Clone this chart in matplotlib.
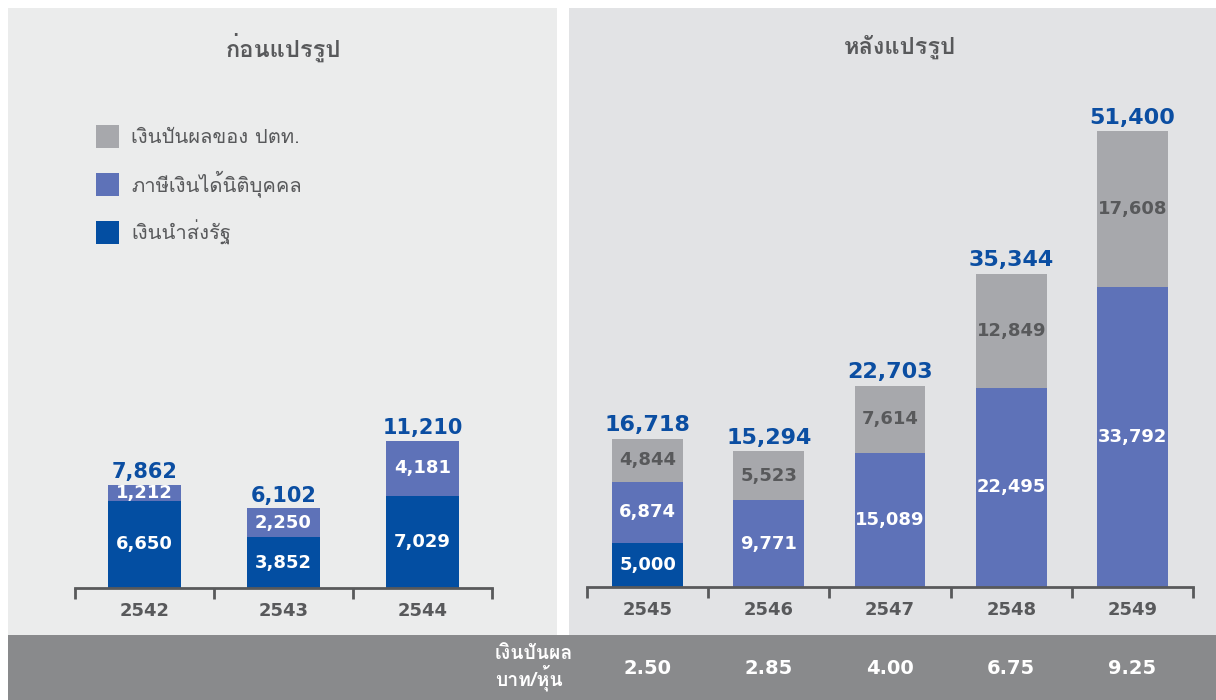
import matplotlib
matplotlib.use("Agg")
import matplotlib.pyplot as plt
from matplotlib import font_manager as fm
from matplotlib.ft2font import FT2Font
from matplotlib.patches import Rectangle, Patch

# ---------------- data ----------------
years_before = ["2542", "2543", "2544"]
remit_before = [6650, 3852, 7029]          # เงินนำส่งรัฐ
tax_before = [1212, 2250, 4181]            # ภาษีเงินได้นิติบุคคล
total_before = [7862, 6102, 11210]

years_after = ["2545", "2546", "2547", "2548", "2549"]
remit_after = [5000, 0, 0, 0, 0]
tax_after = [6874, 9771, 15089, 22495, 33792]
div_after = [4844, 5523, 7614, 12849, 17608]   # เงินปันผลของ ปตท.
total_after = [16718, 15294, 22703, 35344, 51400]

dps = ["2.50", "2.85", "4.00", "6.75", "9.25"]

legend_labels = ["เงินปันผลของ ปตท.", "ภาษีเงินได้นิติบุคคล", "เงินนำส่งรัฐ"]
title_before = "ก่อนแปรรูป"
title_after = "หลังแปรรูป"
band_label = "เงินปันผล\nบาท/หุ้น"

# ---------------- fonts ----------------
def thai_fonts():
    out = []
    seen = set()
    for f in fm.fontManager.ttflist:
        if f.name in seen:
            continue
        try:
            ft = FT2Font(f.fname)
            if ft.get_char_index(ord("ก")) and ft.get_char_index(ord("ู")):
                out.append(f.name)
                seen.add(f.name)
        except Exception:
            pass
    return out

tf = thai_fonts()
THAI = tf[:1] + ["DejaVu Sans"]
NUM = ["DejaVu Sans"]
avail = {f.name for f in fm.fontManager.ttflist}
NARROW = ["Liberation Sans Narrow"] if "Liberation Sans Narrow" in avail else ["DejaVu Sans"]
plt.rcParams["font.family"] = THAI

C_DARK = "#034EA2"
C_MID = "#5E72B8"
C_GRAY = "#A7A8AC"
C_TXT = "#58595B"
C_TOT = "#0B4EA2"

W, H = 1216, 700
fig = plt.figure(figsize=(W / 100, H / 100), dpi=100)
fig.patch.set_facecolor("white")

def fx(px):
    return px / W

def fy(py):
    return 1 - py / H

# panel backgrounds
fig.patches.append(Rectangle((fx(8), fy(635)), fx(557) - fx(8), fy(8) - fy(635),
                             transform=fig.transFigure, facecolor="#EBECEC", edgecolor="none", zorder=-5))
fig.patches.append(Rectangle((fx(569), fy(635)), fx(1216) - fx(569), fy(8) - fy(635),
                             transform=fig.transFigure, facecolor="#E2E3E5", edgecolor="none", zorder=-5))
fig.patches.append(Rectangle((fx(8), 0), 1 - fx(8), fy(635),
                             transform=fig.transFigure, facecolor="#898A8C", edgecolor="none", zorder=-5))

def setup(ax, n, ymax, labels):
    ax.set_facecolor("none")
    ax.set_xlim(-0.5, n - 0.5)
    ax.set_ylim(0, ymax)
    for s in ["top", "right", "left"]:
        ax.spines[s].set_visible(False)
    ax.spines["bottom"].set_color(C_TXT)
    ax.spines["bottom"].set_linewidth(2)
    ax.set_yticks([])
    ax.set_xticks(range(n))
    ax.set_xticklabels(labels, fontsize=13, fontweight="bold", color=C_TXT, family=NUM)
    ax.tick_params(axis="x", which="major", length=0, pad=10)
    ax.set_xticks([i - 0.5 for i in range(n + 1)], minor=True)
    ax.tick_params(axis="x", which="minor", length=8, width=2, color=C_TXT, direction="out")

# left axes
axL = fig.add_axes([fx(75), fy(588), fx(492) - fx(75), fy(100) - fy(588)])
setup(axL, 3, 488 * 76, years_before)
xL = list(range(3))
wL = 0.52
axL.bar(xL, remit_before, wL, color=C_DARK, zorder=2)
axL.bar(xL, tax_before, wL, bottom=remit_before, color=C_MID, zorder=2)
for i in xL:
    axL.text(i, remit_before[i] / 2, f"{remit_before[i]:,}", ha="center", va="center",
             color="white", fontsize=13, fontweight="bold", family=NUM)
    axL.text(i, remit_before[i] + tax_before[i] / 2, f"{tax_before[i]:,}", ha="center", va="center",
             color="white", fontsize=13, fontweight="bold", family=NUM)
    axL.annotate(f"{total_before[i]:,}", (i, total_before[i]), xytext=(0, 1.5), textcoords="offset points",
                 ha="center", va="bottom", color=C_TOT, fontsize=15, fontweight="bold", family=NUM)

# right axes
axR = fig.add_axes([fx(587), fy(587), fx(1193) - fx(587), fy(100) - fy(587)])
setup(axR, 5, 487 * 112.8, years_after)
xR = list(range(5))
wR = 0.585
axR.bar(xR, remit_after, wR, color=C_DARK, zorder=2)
axR.bar(xR, tax_after, wR, bottom=remit_after, color=C_MID, zorder=2)
bot2 = [a + b for a, b in zip(remit_after, tax_after)]
axR.bar(xR, div_after, wR, bottom=bot2, color=C_GRAY, zorder=2)
for i in xR:
    if remit_after[i]:
        axR.text(i, remit_after[i] / 2, f"{remit_after[i]:,}", ha="center", va="center",
                 color="white", fontsize=13, fontweight="bold", family=NARROW)
    axR.text(i, remit_after[i] + tax_after[i] / 2, f"{tax_after[i]:,}", ha="center", va="center",
             color="white", fontsize=13, fontweight="bold", family=NARROW)
    axR.text(i, bot2[i] + div_after[i] / 2, f"{div_after[i]:,}", ha="center", va="center",
             color=C_TXT, fontsize=13, fontweight="bold", family=NARROW)
    axR.annotate(f"{total_after[i]:,}", (i, total_after[i]), xytext=(0, 2.5), textcoords="offset points",
                 ha="center", va="bottom", color=C_TOT, fontsize=16, fontweight="bold", family=NARROW)

# titles
fig.text(fx(283), fy(47), title_before, ha="center", va="center", fontsize=17, fontweight="bold",
         color=C_TXT, family=THAI)
fig.text(fx(900), fy(47), title_after, ha="center", va="center", fontsize=17, fontweight="bold",
         color=C_TXT, family=THAI)

# legend
handles = [Patch(facecolor=C_GRAY), Patch(facecolor=C_MID), Patch(facecolor=C_DARK)]
leg = fig.legend(handles, legend_labels, loc="upper left", bbox_to_anchor=(fx(96), fy(125)),
                 bbox_transform=fig.transFigure, frameon=False, handlelength=1.15,
                 handleheight=1.35, handletextpad=0.6, labelspacing=1.12, borderpad=0, borderaxespad=0,
                 prop={"family": THAI, "size": 14.5})
for t in leg.get_texts():
    t.set_color(C_TXT)

# bottom band
fig.text(fx(495), fy(668), band_label, ha="left", va="center", fontsize=14, fontweight="bold",
         color="white", family=THAI, linespacing=1.05)
for i in xR:
    xd = axR.transData.transform((i, 0))[0]
    xf = fig.transFigure.inverted().transform((xd, 0))[0]
    fig.text(xf, fy(668), dps[i], ha="center", va="center", fontsize=14, fontweight="bold",
             color="white", family=NARROW)

fig.savefig("out.png", dpi=100, facecolor="white")
